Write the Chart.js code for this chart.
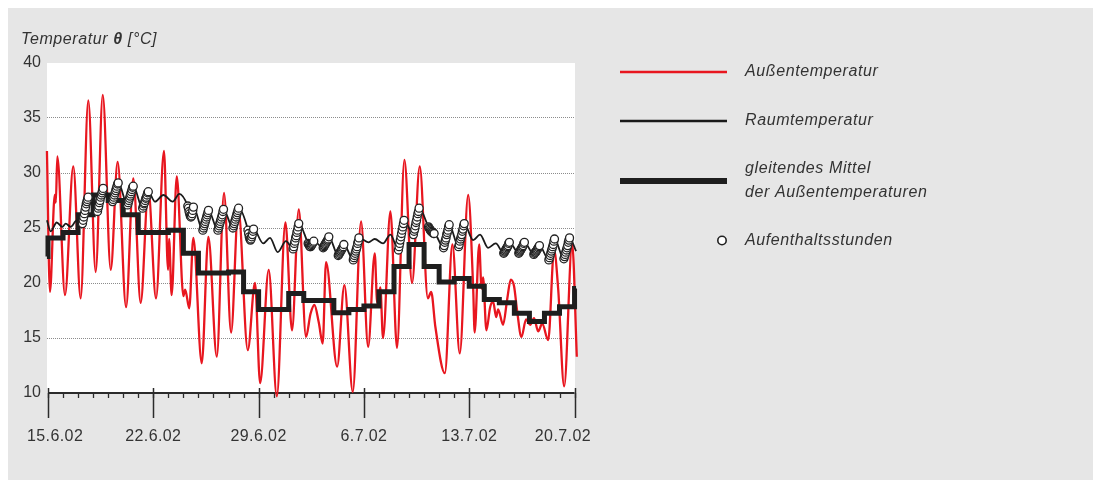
<!DOCTYPE html>
<html lang="de">
<head>
<meta charset="utf-8">
<title>Außen- und Raumtemperatur</title>
<script src="https://cdn.jsdelivr.net/npm/chart.js@4.4.1/dist/chart.umd.min.js"></script>
<style>
  html, body { margin: 0; padding: 0; background: #ffffff; }
  canvas { display: block; }
</style>
</head>
<body>
<canvas id="c" width="1093" height="480"></canvas>
<script>
// Zeitachse in Tagen ab 15.6.02 (Tag 0)
const tickDays = [0, 7, 14, 21, 28, 35];
const tickLabels = ['15.6.02', '22.6.02', '29.6.02', '6.7.02', '13.7.02', '20.7.02'];

const seriesLabels = ['Außentemperatur', 'Raumtemperatur', 'gleitendes Mittel\nder Außentemperaturen', 'Aufenthaltsstunden'];

// Außentemperatur [°C]
const outdoorDays = [
  -0.07, 0.13, 0.45, 0.52, 0.62, 1.13, 1.68, 2.17, 2.68, 3.17, 3.64, 4.17, 4.63, 5.19, 5.67, 6.16, 6.67,
  7.18, 7.71, 7.98, 8.05, 8.22, 8.56, 9.00, 9.12, 9.39, 9.66, 10.22, 10.66, 11.22, 11.70, 12.17, 12.65,
  13.28, 13.76, 14.10, 14.67, 15.21, 15.78, 16.22, 16.67, 17.15, 17.45, 17.71, 18.00, 18.26, 18.48,
  19.22, 19.70, 20.26, 20.81, 21.28, 21.72, 21.88, 22.09, 22.27, 22.76, 23.20, 23.69, 24.20, 24.71,
  25.25, 25.47, 25.75, 26.38, 26.88, 27.37, 27.93, 28.26, 28.36, 28.66, 28.82, 28.92, 29.14, 29.39,
  29.59, 29.79, 29.92, 30.25, 30.52, 30.76, 30.98, 31.18, 31.47, 31.78, 32.05, 32.31, 32.58, 32.85,
  33.25, 33.64, 33.91, 34.31, 34.84, 35.15
];
const outdoorTemps = [
  32.0, 19.2, 28.0, 27.3, 31.5, 18.9, 30.6, 18.6, 36.6, 21.0, 37.1, 21.2, 31.0, 17.8, 29.5, 18.2, 28.5,
  18.6, 32.0, 21.2, 24.0, 18.9, 29.7, 18.8, 19.4, 17.7, 24.1, 12.7, 24.2, 13.3, 28.2, 15.5, 26.8,
  13.9, 20.0, 10.9, 21.2, 9.7, 25.5, 15.7, 26.7, 15.1, 17.2, 18.0, 16.4, 14.5, 21.9,
  12.4, 19.8, 10.1, 25.6, 14.2, 22.7, 18.2, 19.6, 15.0, 26.5, 14.1, 31.2, 20.0, 30.6,
  18.6, 19.2, 16.0, 11.8, 23.5, 13.6, 28.0, 19.6, 15.5, 23.5, 19.5, 20.5, 15.7, 17.8,
  18.3, 16.9, 17.6, 16.2, 18.5, 20.3, 19.7, 17.5, 15.1, 16.7, 16.2, 16.8, 15.6, 16.3,
  14.8, 23.0, 19.5, 10.6, 23.6, 13.3
];

// Raumtemperatur außerhalb der Aufenthaltszeiten [°C]
const roomDays = [
  -0.07, 0.18, 0.58, 0.95, 1.18, 1.51, 1.91,
  7.11, 7.67, 8.29, 8.73,
  14.31, 14.76, 15.27, 15.82,
  21.30, 21.72, 22.27, 22.76,
  28.26, 28.72, 29.25, 29.76,
  35.10
];
const roomTemps = [
  25.7, 24.7, 25.5, 25.1, 25.4, 25.1, 25.7,
  27.4, 28.0, 27.4, 28.1,
  23.6, 24.1, 22.8, 23.8,
  23.7, 24.0, 23.6, 24.4,
  23.9, 24.4, 23.2, 23.6,
  22.9
];

// Aufenthaltsstunden: stündliche Raumtemperatur ab 7 Uhr an Arbeitstagen
const occupiedDays = [2, 3, 4, 5, 6, 9, 10, 11, 12, 13, 16, 17, 18, 19, 20, 23, 24, 25, 26, 27, 30, 31, 32, 33, 34];
const occupiedFirstHour = 7;
const occupiedTemps = [
  [25.4, 25.7, 26.0, 26.3, 26.6, 26.9, 27.2, 27.4, 27.6, 27.8],
  [26.5, 26.8, 27.0, 27.3, 27.5, 27.8, 28.0, 28.2, 28.4, 28.6],
  [27.4, 27.6, 27.8, 28.0, 28.2, 28.4, 28.6, 28.8, 29.0, 29.1],
  [27.1, 27.3, 27.5, 27.7, 27.9, 28.1, 28.3, 28.5, 28.7, 28.8],
  [26.8, 27.0, 27.2, 27.3, 27.5, 27.7, 27.8, 28.0, 28.2, 28.3],
  [27.0, 26.8, 26.5, 26.3, 26.1, 26.0, 26.1, 26.3, 26.6, 26.9],
  [24.8, 25.0, 25.2, 25.4, 25.6, 25.8, 26.0, 26.2, 26.4, 26.6],
  [24.8, 25.0, 25.2, 25.4, 25.6, 25.8, 26.0, 26.2, 26.5, 26.7],
  [25.0, 25.2, 25.4, 25.6, 25.8, 26.0, 26.2, 26.4, 26.6, 26.8],
  [24.8, 24.5, 24.2, 24.0, 23.9, 24.0, 24.2, 24.4, 24.7, 24.9],
  [23.1, 23.3, 23.6, 23.8, 24.1, 24.3, 24.6, 24.8, 25.1, 25.4],
  [23.6, 23.5, 23.4, 23.3, 23.3, 23.4, 23.5, 23.6, 23.7, 23.8],
  [23.2, 23.3, 23.4, 23.5, 23.6, 23.7, 23.8, 23.9, 24.0, 24.2],
  [22.5, 22.6, 22.7, 22.8, 22.9, 23.0, 23.1, 23.2, 23.3, 23.5],
  [22.1, 22.3, 22.5, 22.7, 22.9, 23.1, 23.3, 23.6, 23.8, 24.1],
  [23.0, 23.3, 23.6, 23.9, 24.2, 24.5, 24.8, 25.1, 25.4, 25.7],
  [24.4, 24.7, 24.9, 25.2, 25.5, 25.7, 26.0, 26.3, 26.5, 26.8],
  [25.1, 25.0, 24.9, 24.8, 24.7, 24.7, 24.6, 24.6, 24.5, 24.5],
  [23.2, 23.4, 23.7, 23.9, 24.1, 24.4, 24.6, 24.8, 25.1, 25.3],
  [23.3, 23.5, 23.8, 24.0, 24.2, 24.4, 24.7, 24.9, 25.2, 25.4],
  [22.7, 22.8, 22.9, 23.0, 23.1, 23.2, 23.3, 23.4, 23.6, 23.7],
  [22.7, 22.8, 22.9, 23.0, 23.1, 23.2, 23.3, 23.4, 23.6, 23.7],
  [22.6, 22.7, 22.8, 22.8, 22.9, 23.0, 23.1, 23.2, 23.3, 23.4],
  [22.1, 22.3, 22.5, 22.7, 22.9, 23.1, 23.3, 23.5, 23.8, 24.0],
  [22.2, 22.4, 22.6, 22.8, 23.0, 23.2, 23.4, 23.7, 23.9, 24.1]
];

// gleitendes Mittel der Außentemperaturen, Tageswerte [°C]
const meanDays = [
  -0.07, 0, 1, 2, 3, 4, 5, 6, 7, 8, 9, 10, 11, 12, 13, 14, 15, 16, 17,
  18, 19, 20, 21, 22, 23, 24, 25, 26, 27, 28, 29, 30, 31, 32, 33, 34, 35, 35.1
];
const meanTemps = [
  22.4, 24.1, 24.6, 26.2, 28.0, 27.5, 26.2, 24.6, 24.6, 24.8, 22.7, 20.9, 20.9, 21.0, 19.2, 17.6, 17.6, 19.05, 18.4,
  18.4, 17.3, 17.6, 17.9, 19.2, 21.5, 23.5, 21.5, 20.1, 20.4, 19.7, 18.5, 18.2, 17.25, 16.5, 17.25, 17.85, 19.5, 19.5
];

// ---- Datensätze aufbauen ----
const toPoints = (xs, ys) => xs.map((x, i) => ({ x, y: ys[i] }));
const outdoorLine = toPoints(outdoorDays, outdoorTemps);
const meanLine = toPoints(meanDays, meanTemps);
const occupiedPoints = [];
occupiedDays.forEach((d, i) => {
  occupiedTemps[i].forEach((t, h) => occupiedPoints.push({ x: d + (occupiedFirstHour + h) / 24, y: t }));
});
const roomLine = toPoints(roomDays, roomTemps).concat(occupiedPoints).sort((a, b) => a.x - b.x);

const textColor = '#333333';
const fontFamily = '"Liberation Sans", Arial, Helvetica, sans-serif';
Chart.defaults.font.family = fontFamily;

// Hintergrund, Zeitachse, Achsentitel und Legende
const decorations = {
  id: 'decorations',
  beforeDraw(chart) {
    const { ctx, chartArea: a } = chart;
    ctx.save();
    ctx.fillStyle = '#ffffff';
    ctx.fillRect(0, 0, chart.width, chart.height);
    ctx.fillStyle = '#e6e6e6';
    ctx.fillRect(8, 8, chart.width - 8, chart.height - 8);
    ctx.fillStyle = '#ffffff';
    ctx.fillRect(a.left, a.top, a.right - a.left, a.bottom - a.top);
    ctx.restore();
  },
  beforeDatasetsDraw(chart) {
    const { ctx, chartArea: a, scales: { x } } = chart;
    const y0 = a.bottom;
    const first = tickDays[0], last = tickDays[tickDays.length - 1];
    ctx.save();
    ctx.strokeStyle = '#2b2b2b';
    // Achsenlinie
    ctx.lineWidth = 2;
    ctx.beginPath();
    ctx.moveTo(x.getPixelForValue(first), y0);
    ctx.lineTo(x.getPixelForValue(last), y0);
    ctx.stroke();
    // Tagesstriche
    ctx.lineWidth = 1.3;
    for (let d = first; d <= last; d++) {
      const px = Math.round(x.getPixelForValue(d)) + 0.5;
      ctx.beginPath();
      ctx.moveTo(px, y0);
      ctx.lineTo(px, y0 + 5);
      ctx.stroke();
    }
    // Wochenstriche
    ctx.lineWidth = 1.5;
    tickDays.forEach(d => {
      const px = Math.round(x.getPixelForValue(d)) + 0.5;
      ctx.beginPath();
      ctx.moveTo(px, y0 - 5);
      ctx.lineTo(px, y0 + 25);
      ctx.stroke();
    });
    // Datumsbeschriftung
    ctx.fillStyle = textColor;
    ctx.font = '16px ' + fontFamily;
    ctx.letterSpacing = '0.4px';
    ctx.textAlign = 'left';
    ctx.textBaseline = 'middle';
    tickDays.forEach((d, i) => {
      const w = ctx.measureText(tickLabels[i]).width;
      let left = x.getPixelForValue(d) - w / 2;
      left = Math.max(27, Math.min(left, 591 - w));
      ctx.fillText(tickLabels[i], left, y0 + 44);
    });
    ctx.restore();
  },
  afterDraw(chart) {
    const { ctx } = chart;
    const ds = chart.data.datasets;
    ctx.save();
    ctx.fillStyle = textColor;
    ctx.letterSpacing = '0.6px';
    // Achsentitel
    ctx.textBaseline = 'alphabetic';
    let tx = 21;
    const parts = [['Temperatur ', 'italic'], ['θ', 'italic bold'], [' [°C]', 'italic']];
    parts.forEach(([s, st]) => {
      ctx.font = st + ' 16px ' + fontFamily;
      ctx.fillText(s, tx, 43.5);
      tx += ctx.measureText(s).width;
    });
    // Legende
    const lx0 = 620, lx1 = 727, textX = 745;
    const rows = [
      { d: ds[0], y: 72 },
      { d: ds[2], y: 121 },
      { d: ds[1], y: 181 },
      { d: ds[3], y: 240.5 }
    ];
    ctx.font = 'italic 16px ' + fontFamily;
    ctx.textBaseline = 'middle';
    rows.forEach(r => {
      const d = r.d;
      if (d.showLine === false) {
        ctx.beginPath();
        ctx.arc(722, r.y, 4.2, 0, Math.PI * 2);
        ctx.fillStyle = d.pointBackgroundColor;
        ctx.fill();
        ctx.lineWidth = 1.6;
        ctx.strokeStyle = d.pointBorderColor;
        ctx.stroke();
      } else {
        ctx.beginPath();
        ctx.moveTo(lx0, r.y);
        ctx.lineTo(lx1, r.y);
        ctx.lineWidth = d.legendWidth;
        ctx.strokeStyle = d.borderColor;
        ctx.stroke();
      }
      ctx.fillStyle = textColor;
      const lines = d.label.split('\n');
      lines.forEach((s, k) => {
        ctx.fillText(s, textX, r.y + (k - (lines.length - 1) / 2) * 24);
      });
    });
    ctx.restore();
  }
};

new Chart(document.getElementById('c'), {
  type: 'line',
  data: {
    datasets: [
      {
        label: seriesLabels[0], data: outdoorLine, borderColor: '#e8161f', borderWidth: 2.3,
        legendWidth: 2.6, pointRadius: 0, cubicInterpolationMode: 'monotone', clip: false, order: 4
      },
      {
        label: seriesLabels[2], data: meanLine, borderColor: '#1e1e1e', borderWidth: 5,
        legendWidth: 6, stepped: true, pointRadius: 0, clip: false, order: 3,
        borderCapStyle: 'butt', borderJoinStyle: 'miter'
      },
      {
        label: seriesLabels[1], data: roomLine, borderColor: '#1a1a1a', borderWidth: 1.8,
        legendWidth: 2.4, pointRadius: 0, cubicInterpolationMode: 'monotone', clip: false, order: 2
      },
      {
        label: seriesLabels[3], data: occupiedPoints, showLine: false, pointRadius: 4,
        pointBackgroundColor: '#ffffff', pointBorderColor: '#222222', pointBorderWidth: 1.3,
        clip: false, order: 1
      }
    ]
  },
  options: {
    responsive: false,
    animation: false,
    events: [],
    layout: { padding: { left: 0, top: 63, right: 518, bottom: 87 } },
    plugins: { legend: { display: false }, tooltip: { enabled: false }, title: { display: false } },
    scales: {
      x: { type: 'linear', min: -0.066, max: 35.03, display: false },
      y: {
        min: 10, max: 40,
        afterFit(scale) { scale.width = 47; },
        ticks: { stepSize: 5, padding: 6, color: textColor, font: { size: 16 } },
        grid: {
          drawTicks: false, lineWidth: 1,
          color: c => (c.tick && c.tick.value > 10 && c.tick.value < 40) ? '#8c8c8c' : 'rgba(0,0,0,0)'
        },
        border: { display: false, dash: [1, 1] }
      }
    }
  },
  plugins: [decorations]
});
</script>
</body>
</html>
